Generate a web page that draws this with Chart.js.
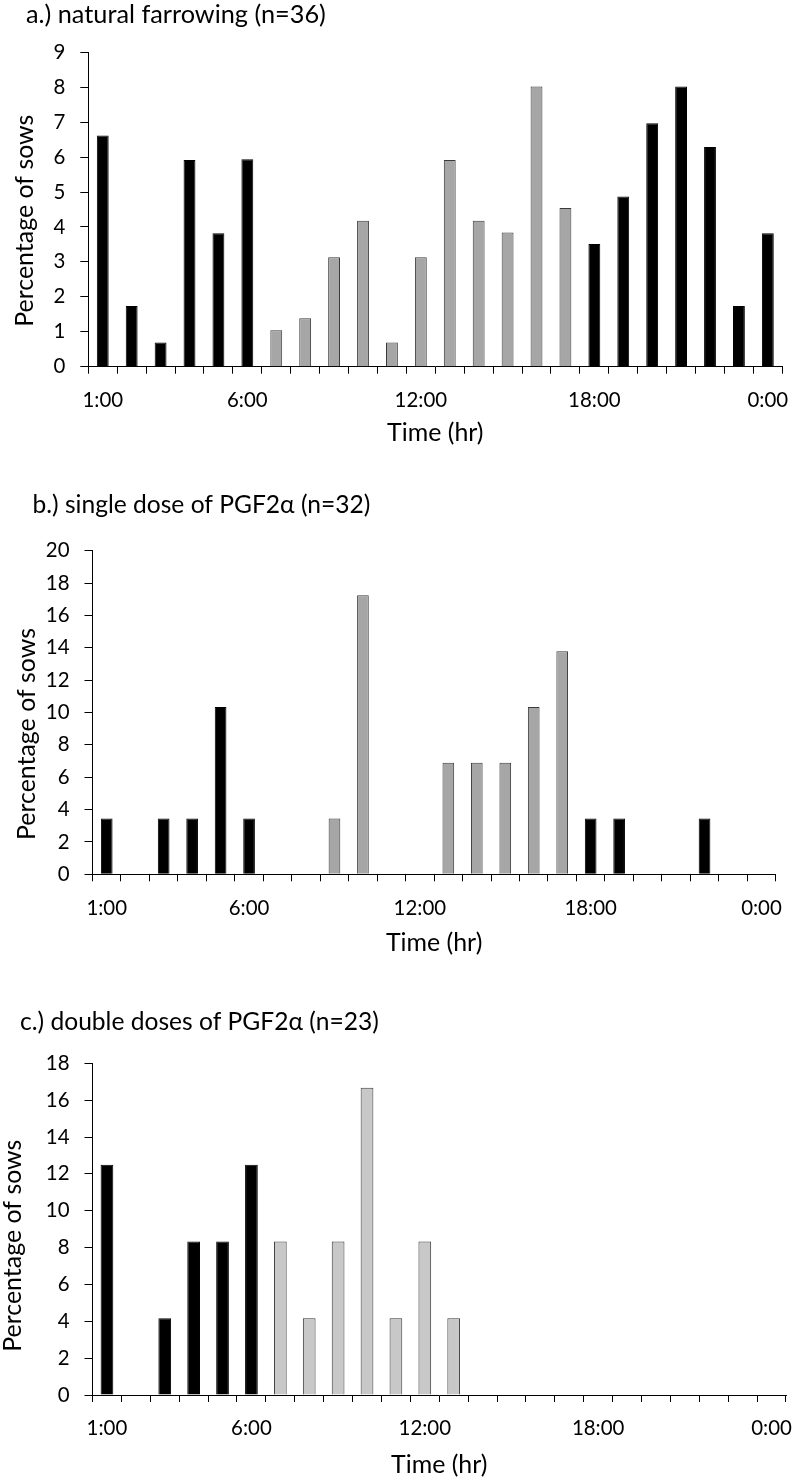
<!DOCTYPE html>
<html><head><meta charset="utf-8">
<script src="https://cdn.jsdelivr.net/npm/chart.js@4.4.1/dist/chart.umd.min.js"></script>
<style>
html,body{margin:0;padding:0;background:#fff;}
body{width:795px;height:1482px;position:relative;overflow:hidden;}
canvas{position:absolute;left:0;}
</style></head><body>
<canvas id="ca" width="795" height="470" style="top:0px"></canvas>
<canvas id="cb" width="795" height="490" style="top:470px"></canvas>
<canvas id="cc" width="795" height="522" style="top:960px"></canvas>
<script>
// ---- data ----
const hours = ['1:00','2:00','3:00','4:00','5:00','6:00','7:00','8:00','9:00','10:00','11:00','12:00',
               '13:00','14:00','15:00','16:00','17:00','18:00','19:00','20:00','21:00','22:00','23:00','0:00'];
const shownTicks = ['1:00','6:00','12:00','18:00','0:00'];
const dayHours = ['7:00','8:00','9:00','10:00','11:00','12:00','13:00','14:00','15:00','16:00','17:00'];

const naturalFarrowing = [6.62,1.74,0.69,5.92,3.82,5.94,1.04,1.39,3.13,4.18,0.69,3.13,
                          5.92,4.18,3.84,8.02,4.54,3.51,4.87,6.97,8.02,6.29,1.74,3.82];
const singleDose = [3.45,0,3.45,3.45,10.34,3.45,0,0,3.45,17.24,0,0,
                    6.90,6.90,6.90,10.34,13.79,3.45,3.45,0,0,3.45,0,0];
const doubleDoses = [12.5,0,4.17,8.33,8.33,12.5,8.33,4.17,8.33,16.67,4.17,8.33,
                     4.17,0,0,0,0,0,0,0,0,0,0,0];

const yTicksA = [0,1,2,3,4,5,6,7,8,9];
const yTicksB = [0,2,4,6,8,10,12,14,16,18,20];
const yTicksC = [0,2,4,6,8,10,12,14,16,18];

const titles = ['a.) natural farrowing (n=36)','b.) single dose of PGF2\u03b1 (n=32)','c.) double doses of PGF2\u03b1 (n=23)'];
const xTitle = 'Time (hr)';
const yTitle = 'Percentage of sows';

// ---- styling helpers ----
const FONT = 'Lato, "Open Sans", sans-serif';
const mctx = document.createElement('canvas').getContext('2d');
function fitSize(text, target) {
  mctx.font = '100px ' + FONT;
  return 100 * target / mctx.measureText(text).width;
}
const titleSizes = [fitSize(titles[0], 300), fitSize(titles[1], 338), fitSize(titles[2], 359)];
const axisTitleSize = (fitSize(xTitle, 97) + fitSize(yTitle, 211)) / 2;
const tickSize = (fitSize('12:00', 53) + fitSize('20', 23.5)) / 2;

// vertical axis title, drawn as text starting at a given point and running upward
const yTitlePlugin = {
  id: 'yAxisTitle',
  afterDraw(chart, args, opts) {
    const ctx = chart.ctx;
    ctx.save();
    ctx.translate(opts.x, opts.y);
    ctx.rotate(-Math.PI / 2);
    ctx.font = axisTitleSize + 'px ' + FONT;
    ctx.fillStyle = '#000';
    ctx.textAlign = 'left';
    ctx.textBaseline = 'middle';
    ctx.fillText(opts.text, 0, 0);
    ctx.restore();
  }
};

function makeChart(id, p) {
  const colors = hours.map(h => dayHours.includes(h) ? p.gray : '#000000');
  const borders = hours.map(h => dayHours.includes(h) ? '#3a3a3a' : '#000000');
  const tLH = p.titleSize * 1.2;
  const aLH = axisTitleSize * 1.2;
  new Chart(document.getElementById(id), {
    type: 'bar',
    plugins: [yTitlePlugin],
    data: {
      labels: hours,
      datasets: [{
        data: p.values,
        backgroundColor: colors,
        borderColor: borders,
        borderWidth: 1,
        barPercentage: p.barPct,
        categoryPercentage: 1.0
      }]
    },
    options: {
      responsive: false,
      devicePixelRatio: 1,
      animation: false,
      layout: { padding: { left: p.padLeft, right: p.padRight, top: 0, bottom: 0 } },
      plugins: {
        legend: { display: false },
        tooltip: { enabled: false },
        title: {
          display: true, text: p.title, align: 'start', color: '#000',
          font: { family: FONT, size: p.titleSize, weight: 'normal', lineHeight: 1.2 },
          padding: { top: p.titleY - tLH / 2, bottom: p.chartTop - p.titleY - tLH / 2 }
        },
        yAxisTitle: { text: yTitle, x: p.yTitleX, y: p.yTitleStart }
      },
      scales: {
        x: {
          offset: true,
          grid: { display: true, drawOnChartArea: false, drawTicks: true, tickLength: 7, color: '#000', tickColor: '#000', offset: true },
          border: { display: true, color: '#000', width: 1 },
          ticks: {
            autoSkip: false, maxRotation: 0, minRotation: 0, padding: 32.5 - 7 - 0.54 * tickSize, color: '#000',
            font: { family: FONT, size: tickSize },
            callback: (v, i) => shownTicks.includes(hours[i]) ? hours[i] : ''
          },
          title: { display: true, text: xTitle, color: '#000', font: { family: FONT, size: axisTitleSize, lineHeight: 1.2 },
                   padding: { top: 0, bottom: p.H - p.xTitleY - aLH / 2 } },
          afterFit: s => { s.height = p.H - p.chartBottom; s.paddingLeft = 0; s.paddingRight = 0; }
        },
        y: {
          min: p.yTicks[0], max: p.yTicks[p.yTicks.length - 1],
          grid: { display: true, drawOnChartArea: false, drawTicks: true, tickLength: 8, color: '#000', tickColor: '#000' },
          border: { display: true, color: '#000', width: 1 },
          ticks: { stepSize: p.yTicks[1] - p.yTicks[0], padding: 15, color: '#000', font: { family: FONT, size: tickSize } },
          title: { display: false },
          afterFit: s => { s.width = p.chartLeft - p.padLeft; }
        }
      }
    }
  });
}

makeChart('ca', { title: titles[0], titleSize: titleSizes[0], values: naturalFarrowing, yTicks: yTicksA, gray: '#a6a6a6', barPct: 0.41,
  H: 470, padLeft: 26, padRight: 12.7, titleY: 15, chartTop: 52.3, chartBottom: 366.7, chartLeft: 88.3,
  yTitleX: 25, yTitleStart: 326.7, xTitleY: 433 });
makeChart('cb', { title: titles[1], titleSize: titleSizes[1], values: singleDose, yTicks: yTicksB, gray: '#a6a6a6', barPct: 0.41,
  H: 490, padLeft: 32.5, padRight: 19.3, titleY: 35, chartTop: 80.7, chartBottom: 404.3, chartLeft: 92.5,
  yTitleX: 26.5, yTitleStart: 370, xTitleY: 472.7 });
makeChart('cc', { title: titles[2], titleSize: titleSizes[2], values: doubleDoses, yTicks: yTicksC, gray: '#c8c8c8', barPct: 0.44,
  H: 522, padLeft: 20, padRight: 9, titleY: 61.7, chartTop: 103.3, chartBottom: 435, chartLeft: 92.5,
  yTitleX: 12.5, yTitleStart: 391.7, xTitleY: 505 });
</script>
</body></html>
